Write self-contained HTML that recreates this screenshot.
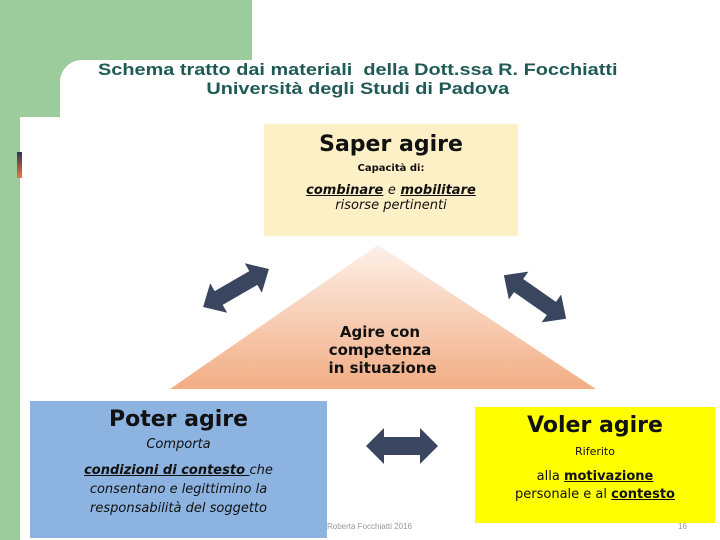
<!DOCTYPE html>
<html><head><meta charset="utf-8"><style>
body{margin:0;width:720px;height:540px;position:relative;overflow:hidden;background:#fff;font-family:"Liberation Sans",sans-serif}
.a{position:absolute}
.t{position:absolute;left:0;width:720px;text-align:center;color:#1f5a55;font-weight:bold;font-size:17px;line-height:19px;transform:scaleX(1.17);transform-origin:373px 0}
.c{font-family:"DejaVu Sans","Liberation Sans",sans-serif;text-align:center;color:#111}
u{text-decoration:underline}
</style></head><body>
<div class="a" style="left:0;top:0;width:252px;height:60px;background:#9ccc9c"></div>
<div class="a" style="left:0;top:0;width:60px;height:117px;background:#9ccc9c"></div>
<div class="a" style="left:0;top:0;width:20px;height:540px;background:#9ccc9c"></div>
<div class="a" style="left:60px;top:60px;width:30px;height:30px;background:#9ccc9c"></div>
<div class="a" style="left:60px;top:60px;width:40px;height:40px;background:#fff;border-top-left-radius:22px"></div>
<div class="t" style="top:60px">Schema tratto dai materiali&nbsp; della Dott.ssa R. Focchiatti</div>
<div class="t" style="top:79px">Università degli Studi di Padova</div>
<div class="a" style="left:17px;top:152px;width:5px;height:26px;background:linear-gradient(#335,#e74)"></div>

<div class="a c" style="left:264px;top:124px;width:254px;height:112px;background:#fdefc6">
<div style="font-size:22px;font-weight:bold;margin-top:8px">Saper agire</div>
<div style="font-size:10px;font-weight:bold;margin-top:6px">Capacità di:</div>
<div style="font-size:13px;font-weight:bold;font-style:italic;margin-top:9px"><u>combinare</u> <span style="font-weight:normal">e</span> <u>mobilitare</u></div>
<div style="font-size:13px;font-style:italic">risorse pertinenti</div>
</div>

<svg class="a" style="left:0;top:0" width="720" height="540">
<defs><linearGradient id="g" x1="0" y1="0" x2="0" y2="1"><stop offset="0" stop-color="#fdf0e8"/><stop offset="1" stop-color="#f2ad84"/></linearGradient></defs>
<polygon points="378,245 596,389 170,389" fill="url(#g)"/>
<g fill="#3a4660">
<g transform="translate(236,288) rotate(-30)"><polygon points="-38,0 -20,-17 -20,-8 20,-8 20,-17 38,0 20,17 20,8 -20,8 -20,17"/></g>
<g transform="translate(535,297) rotate(35)"><polygon points="-38,0 -20,-17 -20,-8 20,-8 20,-17 38,0 20,17 20,8 -20,8 -20,17"/></g>
<g transform="translate(402,446)"><polygon points="-36,0 -18,-18 -18,-9 18,-9 18,-18 36,0 18,18 18,9 -18,9 -18,18"/></g>
</g>
</svg>
<div class="a c" style="left:300px;top:323px;width:160px;font-size:15px;font-weight:bold;line-height:18px">Agire con<br>competenza<br>&nbsp;in situazione</div>

<div class="a c" style="left:30px;top:401px;width:297px;height:137px;background:#8db3e0">
<div style="font-size:22px;font-weight:bold;margin-top:6px">Poter agire</div>
<div style="font-size:13px;font-style:italic;margin-top:5px">Comporta</div>
<div style="font-size:13px;font-style:italic;margin-top:9px;line-height:19px"><u><b>condizioni di contesto </b></u>che<br>consentano e legittimino la<br>responsabilità del soggetto</div>
</div>
<div class="a" style="left:327px;top:522px;font-size:8px;color:#999">Roberta Focchiatti 2016</div>
<div class="a" style="left:678px;top:522px;font-size:8px;color:#999">16</div>

<div class="a c" style="left:475px;top:407px;width:240px;height:116px;background:#ffff00">
<div style="font-size:22px;font-weight:bold;margin-top:6px">Voler agire</div>
<div style="font-size:11px;margin-top:7px">Riferito</div>
<div style="font-size:13px;margin-top:10px;line-height:18px">alla <u><b>motivazione</b></u><br>personale e al <u><b>contesto</b></u></div>
</div>
</body></html>
